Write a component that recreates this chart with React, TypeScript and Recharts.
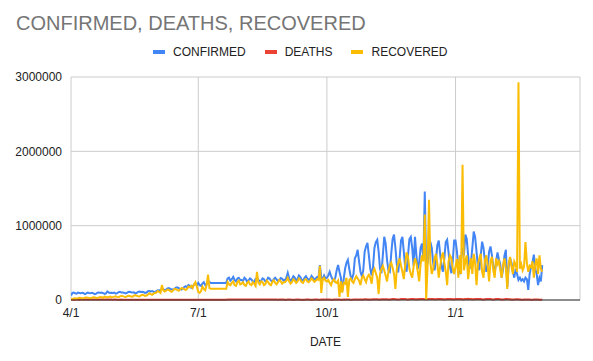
import React from 'react';
import { LineChart, Line, XAxis, YAxis, CartesianGrid } from 'recharts';

// Daily values in thousands, day 0 = 4/1/2020, last day = 3/4/2021
const confirmedK: number[] = [
  // Apr
  60, 95, 100, 90, 85, 100, 95, 90, 98, 92, 80, 88, 100, 95, 92, 96, 90, 78, 85, 98, 102, 95, 100, 92, 82, 90, 115, 100, 96, 98,
  // May
  95, 100, 85, 92, 105, 110, 100, 102, 98, 88, 95, 108, 112, 105, 100, 104, 90, 96, 110, 115, 108, 112, 104, 95, 100, 118, 122, 115, 120, 112, 100,
  // Jun
  120, 130, 125, 135, 150, 145, 130, 140, 155, 160, 150, 145, 135, 150, 165, 170, 160, 150, 140, 155, 175, 185, 170, 200, 190, 165, 180, 210, 220, 200,
  // Jul
  230, 200, 190, 220, 240, 200, 210, 260, 240, 230, 230, 230, 230, 230, 230, 230, 230, 230, 230, 230, 230, 290, 300, 260, 280, 310, 270, 250, 290, 300, 270,
  // Aug
  270, 255, 300, 280, 245, 265, 290, 275, 250, 240, 285, 300, 270, 255, 260, 290, 280, 250, 265, 300, 290, 260, 245, 280, 300, 275, 255, 270, 295, 285, 260,
  // Sep
  270, 300, 365, 290, 260, 280, 320, 300, 265, 280, 330, 310, 270, 260, 300, 320, 290, 270, 285, 325, 300, 275, 290, 310, 300, 470, 300, 280, 330, 290,
  // Oct
  300, 330, 380, 320, 280, 260, 300, 400, 470, 380, 300, 120, 280, 420, 500, 540, 420, 320, 290, 350, 560, 600, 675, 520, 380, 320, 400, 650, 720, 770, 600,
  // Nov
  420, 330, 450, 700, 780, 810, 650, 420, 360, 600, 850, 760, 540, 400, 380, 620, 820, 880, 700, 480, 370, 560, 800, 850, 650, 430, 380, 600, 820, 850,
  // Dec
  700, 460, 850, 600, 420, 500, 700, 760, 550, 1460, 420, 500, 650, 780, 700, 500, 400, 540, 740, 800, 620, 450, 380, 560, 780, 810, 640, 450, 360, 520, 800,
  // Jan
  800, 650, 420, 380, 560, 700, 600, 880, 820, 600, 420, 500, 700, 920, 850, 650, 450, 400, 600, 785, 700, 520, 380, 460, 650, 720, 600, 450, 350, 520, 640,
  // Feb
  550, 480, 300, 420, 600, 675, 175, 450, 560, 500, 380, 300, 420, 350, 270, 300, 260, 280, 250, 300, 280, 135, 350, 450, 500, 610, 420, 350,
  // Mar
  200, 300, 250, 470,
];

const deathsK: number[] = [
  3, 4, 5, 5, 6, 6, 5, 6, 7, 7, 6, 6, 7, 8, 7, 7, 6, 7, 7, 8, 7, 6, 7, 7, 6, 6, 7, 7, 6, 6,
  5, 6, 6, 5, 5, 5, 6, 5, 5, 4, 4, 4, 5, 5, 4, 4, 4, 4, 4, 5, 4, 4, 4, 4, 4, 4, 4, 4, 4, 4, 4,
  4, 4, 4, 4, 5, 4, 4, 4, 4, 4, 4, 4, 5, 4, 4, 4, 4, 5, 4, 4, 4, 4, 5, 4, 4, 4, 4, 5, 4, 4,
  4, 5, 5, 4, 4, 4, 4, 5, 5, 5, 5, 5, 5, 5, 5, 5, 5, 5, 5, 5, 5, 6, 6, 6, 6, 6, 7, 6, 6, 6, 6,
  6, 6, 6, 6, 7, 6, 6, 6, 6, 6, 6, 6, 7, 6, 6, 6, 6, 6, 6, 6, 6, 6, 6, 6, 6, 6, 5, 6, 6, 6, 6,
  5, 5, 6, 6, 6, 5, 5, 5, 6, 6, 6, 5, 5, 5, 5, 6, 6, 6, 5, 5, 5, 6, 6, 6, 5, 5, 6, 6, 6, 6,
  6, 6, 6, 5, 5, 6, 6, 6, 6, 6, 5, 5, 6, 7, 7, 7, 6, 5, 5, 7, 8, 8, 8, 7, 6, 6, 8, 9, 9, 8, 7,
  6, 7, 9, 10, 10, 9, 7, 7, 9, 11, 11, 10, 9, 7, 7, 10, 12, 12, 11, 9, 8, 9, 12, 13, 13, 12, 9, 8, 11, 13,
  14, 13, 11, 9, 10, 12, 14, 13, 12, 10, 9, 11, 13, 15, 14, 12, 10, 9, 12, 14, 15, 14, 11, 9, 10, 13, 14, 15, 14, 11, 9,
  12, 14, 15, 14, 13, 11, 10, 13, 15, 16, 15, 13, 10, 9, 12, 14, 15, 14, 12, 9, 8, 11, 14, 15, 14, 12, 9, 8, 11, 13, 14,
  13, 11, 8, 7, 10, 12, 12, 11, 9, 6, 6, 8, 10, 10, 9, 8, 6, 5, 7, 8, 8, 7, 6, 5, 5, 6, 7, 7,
  6, 5, 5, 6,
];

const recoveredK: number[] = [
  // Apr
  10, 15, 20, 22, 18, 25, 30, 28, 20, 25, 30, 35, 32, 28, 25, 30, 38, 35, 30, 28, 35, 40, 38, 30, 45, 42, 35, 40, 45, 38,
  // May
  40, 45, 50, 42, 38, 48, 55, 52, 45, 40, 50, 58, 55, 48, 45, 60, 65, 58, 50, 48, 62, 70, 65, 55, 60, 75, 90, 80, 70, 85, 95,
  // Jun
  100, 120, 110, 95, 200, 130, 115, 125, 140, 135, 120, 110, 130, 150, 145, 135, 125, 140, 160, 155, 145, 135, 150, 180, 170, 190, 160, 210, 240, 180,
  // Jul
  110, 95, 120, 180, 150, 130, 200, 340, 160, 150, 150, 150, 150, 150, 150, 150, 150, 150, 150, 150, 150, 240, 210, 200, 230, 250, 200, 190, 240, 260, 210,
  // Aug
  220, 240, 200, 190, 230, 250, 210, 200, 240, 220, 190, 380, 230, 210, 250, 240, 200, 215, 260, 240, 210, 200, 245, 265, 230, 210, 240, 270, 250, 220, 240,
  // Sep
  240, 260, 300, 250, 220, 240, 280, 260, 230, 250, 290, 270, 240, 230, 270, 280, 250, 240, 260, 290, 270, 245, 260, 280, 270, 460, 95, 280, 300, 260,
  // Oct
  250, 270, 230, 200, 260, 280, 240, 230, 260, 40, 250, 100, 230, 220, 300, 40, 270, 290, 250, 230, 280, 320, 290, 260, 200, 300, 330, 280, 240, 310, 340,
  // Nov
  300, 220, 380, 420, 360, 300, 80, 350, 420, 460, 400, 330, 250, 380, 470, 500, 430, 350, 150, 420, 500, 560, 460, 380, 280, 480, 640, 580, 420, 350,
  // Dec
  300, 450, 560, 500, 380, 250, 480, 600, 520, 1150, 0, 450, 1350, 500, 350, 420, 560, 620, 480, 300, 450, 580, 640, 500, 380, 200, 520, 600, 560, 420, 350,
  // Jan
  450, 550, 300, 600, 350, 1820, 400, 520, 600, 280, 450, 560, 350, 620, 500, 200, 480, 560, 620, 380, 300, 540, 600, 460, 250, 520, 580, 400, 300, 560, 480,
  // Feb
  520, 400, 300, 480, 560, 420, 150, 500, 580, 450, 350, 520, 480, 380, 2930, 420, 480, 400, 450, 780, 500, 380, 460, 440, 520, 300, 480, 560,
  // Mar
  350, 600, 420, 380,
];

const xDomain: [number, number] = [0, 364];
const xTickDays = [0, 91, 183, 275];
const xTickLabels = ['4/1', '7/1', '10/1', '1/1'];
const yTicks = [0, 1000000, 2000000, 3000000];

const seriesNames = ['CONFIRMED', 'DEATHS', 'RECOVERED'];
const seriesColors = ['#4285F4', '#EA4335', '#FBBC04'];

const data = confirmedK.map((c, i) => ({
  day: i,
  CONFIRMED: c * 1000,
  DEATHS: deathsK[i] * 1000,
  RECOVERED: recoveredK[i] * 1000,
}));

const FONT = '"Liberation Sans", Arial, sans-serif';

export default function App() {
  return (
    <div
      style={{
        position: 'absolute',
        left: 0,
        top: 0,
        width: 593,
        height: 361,
        background: '#fff',
        fontFamily: FONT,
      }}
    >
      <div
        style={{
          position: 'absolute',
          left: 16,
          top: 13,
          fontSize: 20,
          lineHeight: '20px',
          color: '#757575',
          whiteSpace: 'nowrap',
        }}
      >
        CONFIRMED, DEATHS, RECOVERED
      </div>
      <div
        style={{
          position: 'absolute',
          left: 153,
          top: 46,
          height: 12,
          display: 'flex',
          alignItems: 'center',
          fontSize: 12,
          lineHeight: '12px',
          color: '#222',
          whiteSpace: 'nowrap',
        }}
      >
        {seriesNames.map((n, i) => (
          <div key={n} style={{ display: 'flex', alignItems: 'center', marginRight: 19 }}>
            <span
              style={{
                display: 'inline-block',
                width: 12,
                height: 4,
                background: seriesColors[i],
                marginRight: 8,
              }}
            />
            <span>{n}</span>
          </div>
        ))}
      </div>
      <LineChart
        width={593}
        height={361}
        data={data}
        margin={{ top: 77, right: 13, bottom: 31, left: 0 }}
        style={{ fontFamily: FONT }}
      >
        <CartesianGrid stroke="#cccccc" strokeWidth={1} />
        <XAxis
          dataKey="day"
          type="number"
          domain={xDomain}
          ticks={xTickDays}
          tickFormatter={(v: number) => xTickLabels[xTickDays.indexOf(v)] ?? ''}
          tickSize={0}
          tickMargin={8}
          height={30}
          axisLine={{ stroke: '#333333' }}
          tick={{ fill: '#222', fontSize: 12 }}
          label={{ value: 'DATE', position: 'bottom', offset: 7, fill: '#222', fontSize: 12 }}
          allowDataOverflow
        />
        <YAxis
          width={71}
          domain={[0, 3000000]}
          ticks={yTicks}
          tickSize={0}
          tickMargin={9}
          axisLine={false}
          tick={{ fill: '#222', fontSize: 12 }}
          interval={0}
        />
        <Line
          type="linear"
          dataKey="CONFIRMED"
          stroke={seriesColors[0]}
          strokeWidth={2}
          dot={false}
          isAnimationActive={false}
        />
        <Line
          type="linear"
          dataKey="DEATHS"
          stroke={seriesColors[1]}
          strokeWidth={2}
          dot={false}
          isAnimationActive={false}
        />
        <Line
          type="linear"
          dataKey="RECOVERED"
          stroke={seriesColors[2]}
          strokeWidth={2}
          dot={false}
          isAnimationActive={false}
        />
      </LineChart>
    </div>
  );
}
